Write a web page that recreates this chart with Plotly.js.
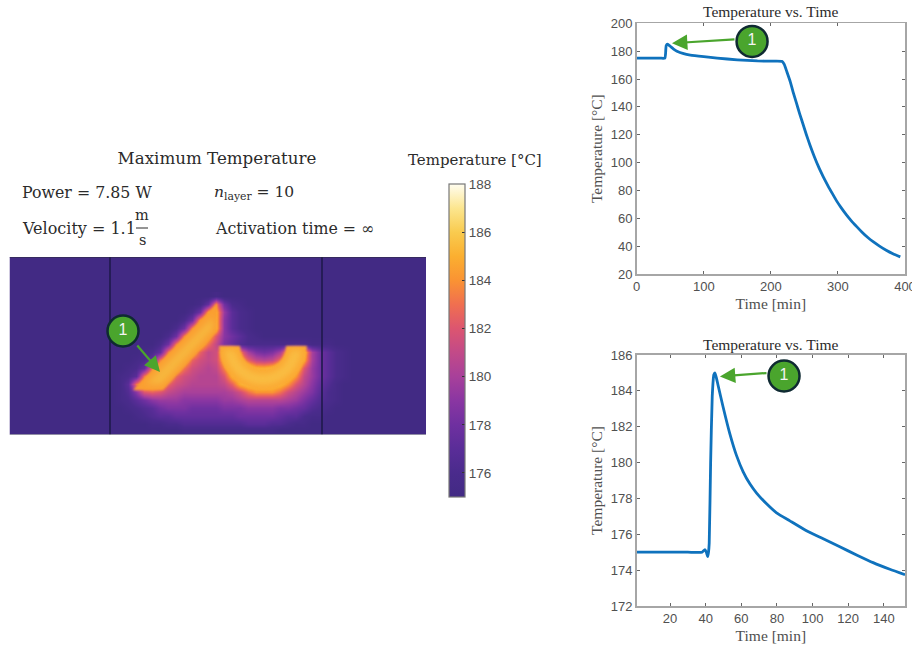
<!DOCTYPE html>
<html>
<head>
<meta charset="utf-8">
<script src="https://cdn.plot.ly/plotly-3.0.1.min.js"></script>
<style>html,body{margin:0;padding:0;background:#fff}#chart{width:912px;height:645px}</style>
</head>
<body>
<div id="chart"></div>
<script>
// ---- data ----
const overviewTime = [0,20,35,42,43,44,46,50,55,60,70,80,100,120,150,180,200,217,220,224,229,233,238,243,248,253,258,265,272,278,285,292,298,305,313,320,328,336,345,353,362,372,382,393];
const overviewTemp = [175,175,175,175,178,184,185,183.5,181.5,180,178.2,177.2,176,175,173.8,173,172.8,172.6,170.5,165,158,151,143,135,127.5,120,113,104,96,90,83.5,77.5,72.5,67.5,62.3,58.2,54,50,46,43,40,37,34.5,32.3];
const detailTime = [1.3,20,30,38,39.6,40.4,41.1,41.6,42,42.8,43.7,44.6,45.2,46.1,47,49.8,53.6,57.3,61,64.9,68.6,74.2,79.8,87.3,96.6,106,115.3,124.7,134,143.4,151.9];
const detailTemp = [175,175,175,175,175.15,175,174.75,175,175.5,180,183.7,184.9,185,184.7,184.3,183.1,181.6,180.4,179.5,178.8,178.3,177.7,177.2,176.75,176.2,175.75,175.3,174.85,174.42,174.05,173.75];

const mapX = [104,112,120,128,136,144,152,160,168,176,184,192,200,208,216,224,232,240,248,256,264,272,280,288,296,304,312,320,328,336,344,352];
const mapY = [296,304,312,320,328,336,344,352,360,368,376,384,392,400,408,416,424,430];
const mapTemp = [
[175,175,175,175,175,175,175,175,175,175,175,175,175,175,175.5,175,175,175,175,175,175,175,175,175,175,175,175,175,175,175,175,175],
[175,175,175,175,175,175,175,175,175,175,175,175,175.5,177.5,183,178,176,175.5,175,175,175,175,175,175,175,175,175,175,175,175,175,175],
[175,175,175,175,175,175,175,175,175,175,175,176,178,184,185,179.5,177,176,175.5,175,175,175,175,175,175,175,175,175,175,175,175,175],
[175,175,175,175,175,175,175,175,175,175,176,178,184,185.5,185,179,177,176,175.5,175,175,175,175,175,175,175,175,175,175,175,175,175],
[175,175,175,175,175,175,175,175,175,176,178,183,185,186,185,179,177,176,175.5,175,175,175,175,175,175,175,175,175,175,175,175,175],
[175,175,175,175,175,175,175,175,176,178,183,185,186,185,182,179,178,177,176,175.5,175,175,175,175,175,175,175,175,175,175,175,175],
[175,175,175,175,175,175,175,176,178,183,185,186,185.5,183,181,178.5,177.5,176.5,176,176,176,176,176,176,176,176,175.5,175.5,175.5,175,175,175],
[175,175,175,175,175,175.5,176,177.5,183,185,186,185,182.5,181,181.5,185,185.5,183,180,178.5,178,178.5,180,184,185.5,185,180,178,177,176,175.5,175],
[175,175,175,175,175.5,176,177.5,183,185,186,185,182.5,181.5,181,181.5,185,186,184.5,182.5,181,180.5,181,183,185.5,186,184.5,180,178,177,176,175.5,175],
[175,175,175,175.5,176,177.5,183,185,186,185,183,181.5,181,180.5,181,183.5,186,186,186,185,185,185.5,186,186,185.5,182,179.5,178,177,176,175.5,175],
[175,175,175.5,176,177,183,185,186,184.5,182.5,181.5,181,180.5,180.5,180.5,182,185,186,186.5,186.5,186.5,186.5,186,186,184,181,179.5,178,177,176,175.5,175],
[175,175,175.5,177,183,185,185.5,184.5,182.5,181.5,181,180.5,180.5,180.5,180.5,181,182.5,185,186,186,186,186,185.5,184,182,180.5,179,177.5,176.5,175.5,175,175],
[175,175,175.5,176.5,179,182,182.5,182,181,180.5,180,180,180,180,180,180,180.5,181.5,183,184,184,184,183,181.5,180.5,179.5,178.5,177,176,175.5,175,175],
[175,175,175.5,176,177,178,179,179.5,179.5,179.5,179,179,179,179,179,179.5,179.5,180,180.5,180.5,180.5,180.5,180.5,180,179.5,178.5,177.5,176.5,176,175.5,175,175],
[175,175,175,175.5,176,176.5,177,178,178.5,178.5,178.5,178,178,178,178,178.5,178.5,178.5,179,179,179,179,178.5,178.5,178,177.5,176.5,176,175.5,175,175,175],
[175,175,175,175,175.5,176,176.5,177,177,177.5,177.5,177.5,177.5,177.5,177.5,177.5,177.5,178,178,178,178,178,177.5,177,177,176,175.5,175.5,175,175,175,175],
[175,175,175,175,175,175,175.5,175.5,176,176,176.5,176.5,176.5,176.5,176.5,176.5,176.5,176.5,177,177,177,176.5,176.5,176,175.5,175.5,175,175,175,175,175,175],
[175,175,175,175,175,175,175,175,175,175,175.5,175.5,175.5,175.5,175.5,175.5,175.5,175.5,175.5,175.5,175.5,175.5,175,175,175,175,175,175,175,175,175,175]
];

const stripeOuterX = [217,217,163,133,217];
const stripeOuterY = [303,331,390,390,303];
const stripeCoreX = [213,213,162,146,213];
const stripeCoreY = [317,329,384,384,317];
const ringOuterX = [307,305.5,301.1,294.1,285,274.4,263,251.6,241,231.9,224.9,220.5,219,240,240.8,243.1,246.7,251.5,257,263,269,274.5,279.3,282.9,285.2,286,307];
const ringOuterY = [346,357.4,368,377.1,384.1,388.5,390,388.5,384.1,377.1,368,357.4,346,346,352,357.5,362.3,365.9,368.2,369,368.2,365.9,362.3,357.5,352,346,346];
const ringCoreX = [302,300.7,296.8,290.6,282.5,273.1,263,252.9,243.5,235.4,229.2,225.3,224,235,236,238.8,243.2,249,255.8,263,270.2,277,282.8,287.2,290,291,302];
const ringCoreY = [350,356.1,365.5,373.6,379.8,383.7,385,383.7,379.8,373.6,365.5,356.1,350,350,353.2,360,365.8,370.2,373,374,373,370.2,365.8,360,353.2,350,350];
const dividerX = [110,110,null,322,322];
const dividerY = [257,434.5,null,257,434.5];

const colorStops = [[0,'#422a84'],[0.077,'#4a2b8c'],[0.154,'#5a2d98'],[0.231,'#6f30a0'],[0.308,'#8a36a2'],[0.385,'#a8409a'],[0.462,'#c24a88'],[0.538,'#dc5570'],[0.615,'#f06f50'],[0.692,'#fa9333'],[0.769,'#fbaf30'],[0.846,'#f9cb4f'],[0.923,'#fce68f'],[1,'#fffdf0']];
const colorbarTicks = [176,178,180,182,184,186,188];
const callouts = {map:[123,331], top:[172,187], bottom:[84,184.83]};

// ---- page geometry ----
const W = 912, H = 645;
const px = v => v / W, py = v => 1 - v / H;
const GREEN = '#4aa52d', RING = '#0f2a32', BG = '#422a84';
const serif = 'Liberation Serif, serif', dserif = 'DejaVu Serif, serif', sans = 'Liberation Sans, Arial, sans-serif';
const TXT = '#2b2b2b', AX = '#505050';

const poly = (x, y, color) => ({type:'scatter', mode:'lines', x, y, xaxis:'x', yaxis:'y', fill:'toself', fillcolor:color, line:{width:0, color}, hoverinfo:'skip'});
const badge = (p, xa, ya) => ({type:'scatter', mode:'markers+text', x:[p[0]], y:[p[1]], xaxis:xa, yaxis:ya, text:['1'], textposition:'middle center',
  textfont:{family:sans, size:16, color:'#f4f4f4'}, marker:{size:31, color:GREEN, line:{color:RING, width:2.5}}, hoverinfo:'skip', cliponaxis:false});
const curve = (x, y, xa, ya) => ({type:'scatter', mode:'lines', x, y, xaxis:xa, yaxis:ya, line:{color:'#0f72bd', width:2.8, shape:'spline', smoothing:0.5}, hoverinfo:'skip'});

const traces = [
  {type:'heatmap', x:mapX, y:mapY, z:mapTemp, xaxis:'x', yaxis:'y', zmin:175, zmax:188, zsmooth:'best', colorscale:colorStops, hoverinfo:'skip',
   colorbar:{x:px(449), xanchor:'left', xref:'paper', y:py(497), yanchor:'bottom', yref:'paper', len:313/H, lenmode:'fraction', thickness:16, thicknessmode:'pixels',
     xpad:0, ypad:0, outlinecolor:'#777', outlinewidth:1.2, tickvals:colorbarTicks, ticks:'inside', ticklen:3, tickcolor:'#333', tickwidth:1, tickprefix:'\u00a0',
     tickfont:{family:sans, size:13.5, color:AX}}},
  poly(stripeOuterX, stripeOuterY, '#fa9f30'),
  poly(stripeCoreX, stripeCoreY, '#f7b73c'),
  poly(ringOuterX, ringOuterY, '#fba832'),
  poly(ringCoreX, ringCoreY, '#f9bd42'),
  {type:'scatter', mode:'lines', x:dividerX, y:dividerY, xaxis:'x', yaxis:'y', line:{color:'#1f1a4c', width:1.6}, hoverinfo:'skip'},
  badge(callouts.map, 'x', 'y'),
  curve(overviewTime, overviewTemp, 'x2', 'y2'),
  badge(callouts.top, 'x2', 'y2'),
  curve(detailTime, detailTemp, 'x3', 'y3'),
  badge(callouts.bottom, 'x3', 'y3')
];

const lineAxis = (extra) => Object.assign({showgrid:false, zeroline:false, showline:true, mirror:'ticks', linecolor:'#a6a6a6', linewidth:1.6,
  ticks:'inside', ticklen:3, tickcolor:'#666', tickwidth:1, tickfont:{family:sans, size:13, color:AX}, ticklabeloverflow:'allow'}, extra);
const axisTitle = (text, standoff) => ({text, standoff, font:{family:serif, size:15.5, color:AX}});

const note = (text, x, y, size, anchor, fam) => ({text, x:px(x), y:py(y), xref:'paper', yref:'paper', showarrow:false, xanchor:anchor||'left', yanchor:'middle',
  font:{family:fam||dserif, size, color:TXT}});
const arrow = (x, y, ax, ay, xa, ya) => ({x, y, ax, ay, xref:xa, yref:ya, axref:xa, ayref:ya, text:'', showarrow:true, arrowhead:2, arrowsize:1.4, arrowwidth:2.2, arrowcolor:GREEN, standoff:0});

const layout = {
  width:W, height:H, margin:{l:0, r:0, t:0, b:0}, paper_bgcolor:'#fff', plot_bgcolor:'#fff', showlegend:false,
  title:{text:'Maximum Temperature', x:px(217), xref:'paper', xanchor:'center', y:py(158), yref:'paper', yanchor:'middle', font:{family:dserif, size:16.7, color:TXT}},
  xaxis:{domain:[px(9.5), px(426)], range:[9.5,426], showgrid:false, zeroline:false, showticklabels:false, ticks:'', showline:false},
  yaxis:{domain:[py(434.5), py(257)], range:[434.5,257], showgrid:false, zeroline:false, showticklabels:false, ticks:'', showline:false},
  xaxis2:lineAxis({domain:[px(636.7), px(905)], range:[0,400], anchor:'y2', tickvals:[0,100,200,300,400], title:axisTitle('Time [min]', 5)}),
  yaxis2:lineAxis({domain:[py(274), py(23.3)], range:[20,200], anchor:'x2', tickvals:[20,40,60,80,100,120,140,160,180,200], title:axisTitle('Temperature [°C]', 4)}),
  xaxis3:lineAxis({domain:[px(636.7), px(905)], range:[1.3,151.9], anchor:'y3', tickvals:[20,40,60,80,100,120,140], title:axisTitle('Time [min]', 5)}),
  yaxis3:lineAxis({domain:[py(606), py(355)], range:[172,186], anchor:'x3', tickvals:[172,174,176,178,180,182,184,186], title:axisTitle('Temperature [°C]', 4)}),
  shapes:[
    {type:'rect', xref:'x', yref:'y', x0:9.5, x1:426, y0:257, y1:434.5, layer:'below', fillcolor:BG, line:{width:0}},
    {type:'line', xref:'paper', yref:'paper', x0:px(136), x1:px(148), y0:py(228), y1:py(228), line:{color:TXT, width:1}},
    {type:'line', xref:'x', yref:'y', x0:9.5, x1:426, y0:257, y1:257, layer:'above', line:{color:'#2a2a3a', width:1.2}},
    {type:'line', xref:'x', yref:'y', x0:9.5, x1:426, y0:434.5, y1:434.5, layer:'above', line:{color:'#55556a', width:1.2}}
  ],
  annotations:[
    note('Temperature [°C]', 406, 160, 15),
    note('Power = 7.85 W', 20, 192, 15.8),
    note('<i>n</i><sub>layer</sub> = 10', 212, 193, 15.5),
    note('Velocity = 1.1', 20, 228, 16),
    note('m', 142, 215, 14.5, 'center'),
    note('s', 142, 240, 14.5, 'center'),
    note('Activation time = ∞', 213, 228, 15.8),
    note('Temperature vs. Time', 770.5, 12, 15.5, 'center', serif),
    note('Temperature vs. Time', 770.5, 344, 15.5, 'center', serif),
    arrow(160,372,136,344,'x','y'),
    arrow(52.6,185.7,148,188.5,'x2','y2'),
    arrow(48,184.8,75,185,'x3','y3')
  ]
};
Plotly.newPlot('chart', traces, layout, {displayModeBar:false, staticPlot:true}).then(gd => {
  // soften the hot bands the way the source image is soft
  const svg = gd.querySelector('.main-svg');
  const NS = 'http://www.w3.org/2000/svg';
  const defs = svg.querySelector('defs') || svg.insertBefore(document.createElementNS(NS, 'defs'), svg.firstChild);
  const addBlur = (id, sd) => {
    const f = document.createElementNS(NS, 'filter');
    f.setAttribute('id', id);
    f.setAttribute('x', '-30%'); f.setAttribute('y', '-30%'); f.setAttribute('width', '160%'); f.setAttribute('height', '160%');
    const g = document.createElementNS(NS, 'feGaussianBlur');
    g.setAttribute('stdDeviation', sd);
    f.appendChild(g); defs.appendChild(f);
  };
  addBlur('softEdge', 0.9); addBlur('softCore', 3);
  const fills = gd.querySelectorAll('.subplot.xy .scatterlayer .trace path.js-fill');
  const pick = ['softEdge', 'softCore', 'softEdge', 'softCore'];
  fills.forEach((p, i) => { if (pick[i]) p.setAttribute('filter', 'url(#' + pick[i] + ')'); });
});
</script>
</body>
</html>
